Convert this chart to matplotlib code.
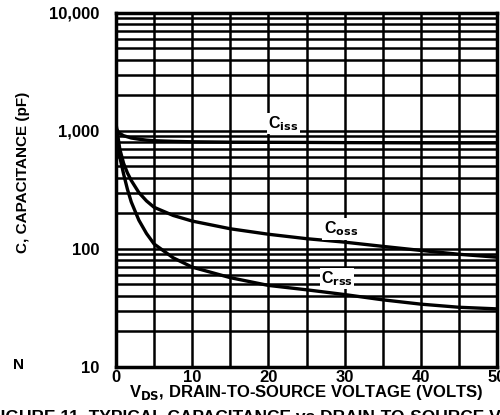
import numpy as np
import matplotlib
matplotlib.use('Agg')
import matplotlib.pyplot as plt
from matplotlib.ticker import FixedLocator, NullFormatter

plt.rcParams['font.family'] = ['Liberation Sans', 'DejaVu Sans']
plt.rcParams['font.weight'] = 'bold'

# drain-to-source voltage (V)
vds = [0, 0.25, 0.5, 1, 1.5, 2, 3, 4, 5, 7.5, 10, 15, 20, 25, 30, 35, 40, 45, 50]
# capacitances (pF)
ciss = [1050, 990, 950, 910, 890, 870, 850, 835, 825, 815, 808, 802, 800, 798, 795, 793, 791, 790, 790]
coss = [1150, 900, 700, 530, 440, 380, 300, 255, 225, 192, 172, 148, 133, 122, 114, 105, 97, 90, 85]
crss = [1050, 800, 600, 430, 320, 250, 175, 135, 110, 84, 70, 57, 49, 45, 41, 37, 34, 32, 31]

x_ticks = [0, 10, 20, 30, 40, 50]
y_ticks = [10, 100, 1000, 10000]
y_tick_labels = ['10', '100', '1,000', '10,000']

fig = plt.figure(figsize=(5.0, 4.15), dpi=100)
ax = fig.add_axes([0.232, 0.116, 0.762, 0.853])

ax.set_yscale('log')
ax.set_xlim(0, 50)
ax.set_ylim(10, 10000)

# log-paper grid
minor_y = [m * 10 ** d for d in range(1, 4) for m in range(2, 10)]
ax.yaxis.set_minor_locator(FixedLocator(minor_y))
ax.yaxis.set_minor_formatter(NullFormatter())
ax.set_yticks(y_ticks)
ax.set_yticklabels(y_tick_labels)
ax.set_xticks(x_ticks)
ax.xaxis.set_minor_locator(FixedLocator(np.arange(5, 50, 10)))
ax.grid(True, which='both', axis='both', color='black', linewidth=1.8)
ax.set_axisbelow(True)
ax.tick_params(which='both', length=0, labelsize=12)
ax.tick_params(axis='y', pad=12)
ax.tick_params(axis='x', pad=2)
for lab in ax.get_xticklabels() + ax.get_yticklabels():
    lab.set_fontweight('bold')

for sp in ax.spines.values():
    sp.set_linewidth(2.5)

for series in (ciss, coss, crss):
    ax.plot(vds, series, color='black', linewidth=2.4, zorder=3)

lab_kw = dict(fontsize=11.5, fontweight='bold', ha='center', va='center', zorder=4,
              bbox=dict(facecolor='white', edgecolor='none', pad=1.0))
ax.text(22, 1150, r'C$_{\mathbf{iss}}$', **lab_kw)
ax.text(29.5, 148, r'C$_{\mathbf{oss}}$', **lab_kw)
ax.text(29, 56, r'C$_{\mathbf{rss}}$', **lab_kw)

ax.set_xlabel(r'V$_{\mathbf{DS}}$, DRAIN-TO-SOURCE VOLTAGE (VOLTS)', fontsize=12,
              fontweight='bold', labelpad=-1)
ax.set_ylabel('C, CAPACITANCE (pF)', fontsize=11, fontweight='bold')
ax.yaxis.set_label_coords(-0.225, 0.548)

fig.text(0.036, 1 - 365 / 415, 'N', fontsize=11, fontweight='bold', ha='center', va='center')
fig.text(-0.02, 1 - 417 / 415, 'FIGURE 11. TYPICAL CAPACITANCE vs DRAIN-TO-SOURCE VOLTAGE',
         fontsize=12.5, fontweight='bold', ha='left', va='center')

fig.savefig('out.png', dpi=100)
